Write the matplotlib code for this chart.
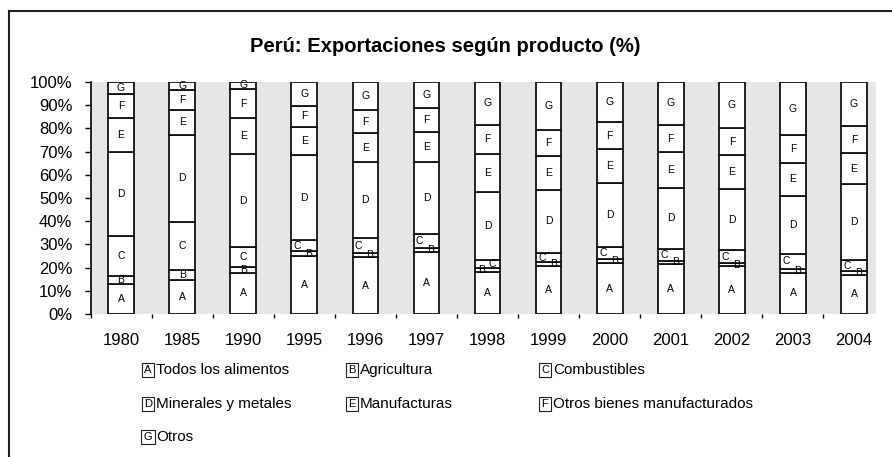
import matplotlib.pyplot as plt
import numpy as np
from matplotlib.lines import Line2D

plt.rcParams["font.family"] = ["Liberation Sans", "DejaVu Sans"]

# datos (%)
years = ["1980", "1985", "1990", "1995", "1996", "1997", "1998",
         "1999", "2000", "2001", "2002", "2003", "2004"]
letters = ["A", "B", "C", "D", "E", "F", "G"]
names = ["Todos los alimentos", "Agricultura", "Combustibles",
         "Minerales y metales", "Manufacturas", "Otros bienes manufacturados", "Otros"]

alimentos = [13.1, 14.8, 17.8, 24.9, 24.4, 26.6, 18.0, 20.5, 21.8, 21.6, 20.5, 17.7, 17.0]
agricultura = [3.3, 4.0, 2.6, 2.1, 1.9, 1.8, 1.7, 1.8, 1.8, 1.4, 1.6, 1.6, 1.4]
combustibles = [17.4, 21.0, 8.6, 4.8, 6.3, 6.2, 3.7, 4.0, 5.3, 5.2, 5.3, 6.7, 4.7]
minerales = [36.0, 37.5, 39.8, 36.6, 32.8, 30.8, 29.0, 27.3, 27.7, 26.0, 26.5, 24.9, 32.8]
manufacturas = [14.5, 10.5, 15.5, 12.1, 12.6, 13.0, 16.6, 14.5, 14.5, 15.5, 14.6, 14.3, 13.5]
otros_manuf = [10.7, 8.6, 12.8, 9.3, 9.8, 10.2, 12.6, 11.4, 11.5, 11.8, 11.7, 11.8, 11.5]
otros = [5.0, 3.6, 2.9, 10.2, 12.2, 11.4, 18.4, 20.5, 17.4, 18.5, 19.8, 23.0, 19.1]

series = [alimentos, agricultura, combustibles, minerales, manufacturas, otros_manuf, otros]

# desplazamiento horizontal de las etiquetas B y C (segmentos pequeños)
b_dx = [0, 0, 0, 0.07, 0.07, 0.07, -0.1, 0.08, 0.08, 0.08, 0.08, 0.08, 0.08]
c_dx = [0, 0, 0, -0.12, -0.12, -0.12, 0.07, -0.11, -0.11, -0.11, -0.11, -0.11, -0.11]

W, H = 892, 457
fig = plt.figure(figsize=(W / 100, H / 100), dpi=100)
ax = fig.add_axes([90.5 / W, 1 - 314 / H, (876 - 90.5) / W, (314 - 82) / H])
ax.set_facecolor("#e6e6e8")

x = np.arange(len(years))
bottom = np.zeros(len(years))
for k, vals in enumerate(series):
    vals = np.array(vals)
    ax.bar(x, vals, 0.42, bottom=bottom, color="white", edgecolor="#111111",
           linewidth=1.3, zorder=2)
    for i in range(len(years)):
        dx = 0
        if k == 1:
            dx = b_dx[i]
        elif k == 2:
            dx = c_dx[i]
        ax.text(x[i] + dx, bottom[i] + vals[i] / 2, letters[k], ha="center",
                va="center", fontsize=7.5, zorder=3)
    bottom += vals

ax.set_xlim(-0.5, 12.36)
ax.set_ylim(0, 100)
ax.set_yticks(np.arange(0, 101, 10))
ax.set_yticklabels([f"{v}%" for v in range(0, 101, 10)], fontsize=12)
ax.tick_params(axis="y", length=4, width=1, pad=9)

ax.set_xticks(np.arange(-0.5, 12.5, 1.0))
ax.set_xticklabels([])
ax.tick_params(axis="x", length=3, width=1, direction="out", pad=0)
ax.set_xticks(x, minor=True)
ax.set_xticklabels(years, minor=True, fontsize=12)
ax.tick_params(axis="x", which="minor", length=0, pad=14)

for s in ["top", "right", "bottom"]:
    ax.spines[s].set_visible(False)
ax.spines["left"].set_linewidth(1.2)

fig.text(445 / W, 1 - 47 / H, "Perú: Exportaciones según producto (%)",
         ha="center", va="center", fontsize=14.5, fontweight="bold")

# leyenda
col_x = [148, 352, 545]
row_y = [370, 404, 437]
for k in range(7):
    r, c = divmod(k, 3)
    bx, by = col_x[c], row_y[r]
    fig.text(bx / W, 1 - by / H, letters[k], ha="center", va="center", fontsize=8,
             bbox=dict(boxstyle="square,pad=0.2", fc="white", ec="#222222", lw=0.8))
    fig.text((bx + 8) / W, 1 - by / H, names[k], ha="left", va="center", fontsize=11)

# marco
fig.add_artist(Line2D([9 / W, 9 / W], [0, 1 - 11 / H], color="#222222", lw=1.5))
fig.add_artist(Line2D([9 / W, 1], [1 - 11 / H, 1 - 11 / H], color="#222222", lw=1.5))

fig.savefig("out.png", dpi=100)
